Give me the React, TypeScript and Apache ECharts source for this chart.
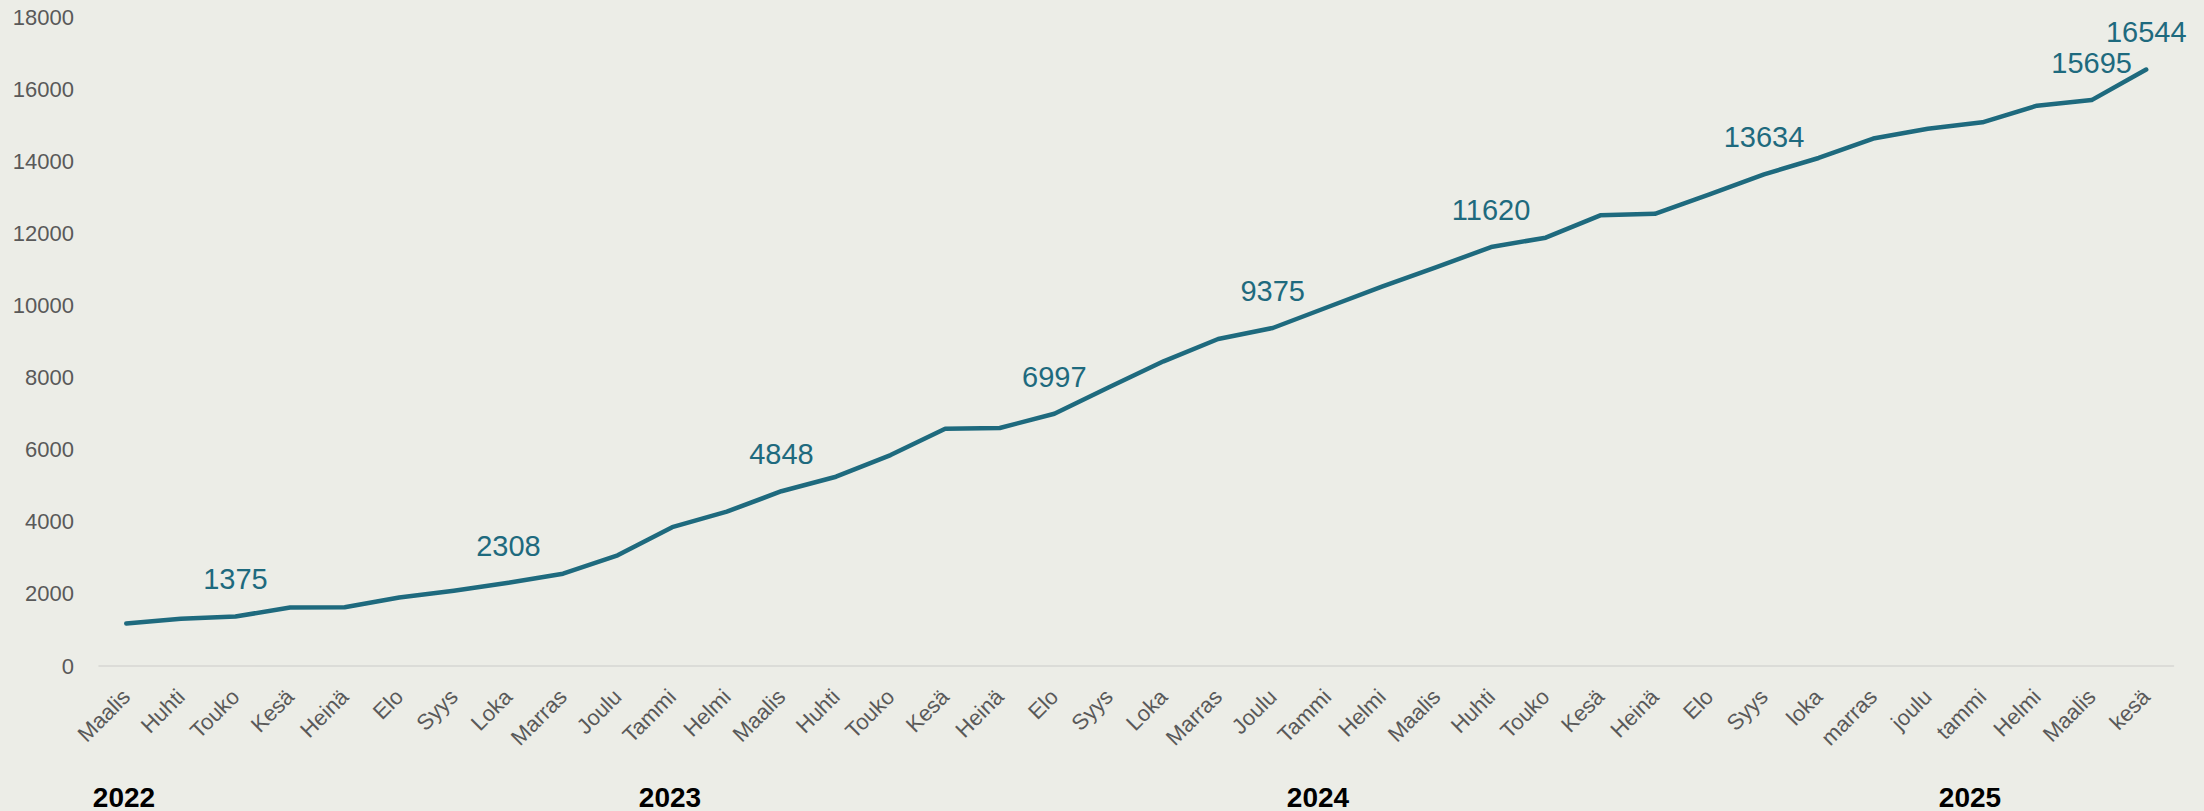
import React, { useEffect, useRef } from "react";
import * as echarts from "echarts";

const months: string[] = [
  "Maalis", "Huhti", "Touko", "Kesä", "Heinä", "Elo", "Syys", "Loka", "Marras", "Joulu",
  "Tammi", "Helmi", "Maalis", "Huhti", "Touko", "Kesä", "Heinä", "Elo", "Syys", "Loka", "Marras", "Joulu",
  "Tammi", "Helmi", "Maalis", "Huhti", "Touko", "Kesä", "Heinä", "Elo", "Syys", "loka", "marras", "joulu",
  "tammi", "Helmi", "Maalis", "kesä",
];

const values: number[] = [
  1180, 1310, 1375, 1620, 1630, 1900, 2090, 2308, 2560, 3070,
  3850, 4280, 4848, 5250, 5850, 6580, 6600, 6997, 7730, 8450, 9070, 9375,
  9950, 10520, 11060, 11620, 11880, 12500, 12540, 13080, 13634, 14090, 14630, 14900,
  15080, 15540, 15695, 16544,
];

const labelledIndices: number[] = [2, 7, 12, 17, 21, 25, 30, 36, 37];

const yearLabels: string[] = ["2022", "2023", "2024", "2025"];
const yearLabelX: number[] = [124, 670, 1318, 1970];

const FONT = "'Liberation Sans', Arial, sans-serif";
const TEAL = "#1e6a7e";
const GRAY = "#595959";

export default function App() {
  const ref = useRef<HTMLDivElement>(null);

  useEffect(() => {
    if (!ref.current) return;
    const chart = echarts.init(ref.current, undefined, { renderer: "svg" });

    const data = values.map((v, i) =>
      labelledIndices.includes(i)
        ? { value: v, label: { show: true } }
        : { value: v }
    );

    chart.setOption({
      animation: false,
      backgroundColor: "#ecede7",
      textStyle: { fontFamily: FONT },
      grid: {
        left: 99,
        right: 30.5,
        top: 17,
        bottom: 145,
        containLabel: false,
        outerBoundsMode: "none",
      },
      xAxis: {
        type: "category",
        data: months,
        boundaryGap: true,
        axisTick: { show: false },
        axisLine: { show: true, lineStyle: { color: "#d6d6d3", width: 1.5 } },
        axisLabel: {
          interval: 0,
          rotate: 45,
          fontSize: 22,
          color: GRAY,
          fontFamily: FONT,
          margin: 27,
        },
        splitLine: { show: false },
      },
      yAxis: {
        type: "value",
        min: 0,
        max: 18000,
        interval: 2000,
        axisLine: { show: false },
        axisTick: { show: false },
        splitLine: { show: false },
        axisLabel: {
          fontSize: 22,
          color: GRAY,
          fontFamily: FONT,
          margin: 25,
          formatter: (v: number) => String(v),
        },
      },
      series: [
        {
          type: "line",
          data,
          symbol: "circle",
          symbolSize: 1,
          itemStyle: { color: TEAL },
          lineStyle: { color: TEAL, width: 4.5, cap: "round", join: "round" },
          label: {
            show: false,
            position: "top",
            distance: 22,
            fontSize: 29,
            color: TEAL,
            fontFamily: FONT,
          },
        },
      ],
      graphic: yearLabels.map((y, i) => ({
        type: "text",
        x: yearLabelX[i],
        y: 797,
        style: {
          text: y,
          fontSize: 28,
          fontWeight: "bold",
          fontFamily: FONT,
          fill: "#000000",
          textAlign: "center",
          textVerticalAlign: "middle",
        },
      })),
    });

    return () => {
      chart.dispose();
    };
  }, []);

  return (
    <div
      ref={ref}
      style={{ position: "fixed", left: 0, top: 0, width: 2204, height: 811 }}
    />
  );
}
